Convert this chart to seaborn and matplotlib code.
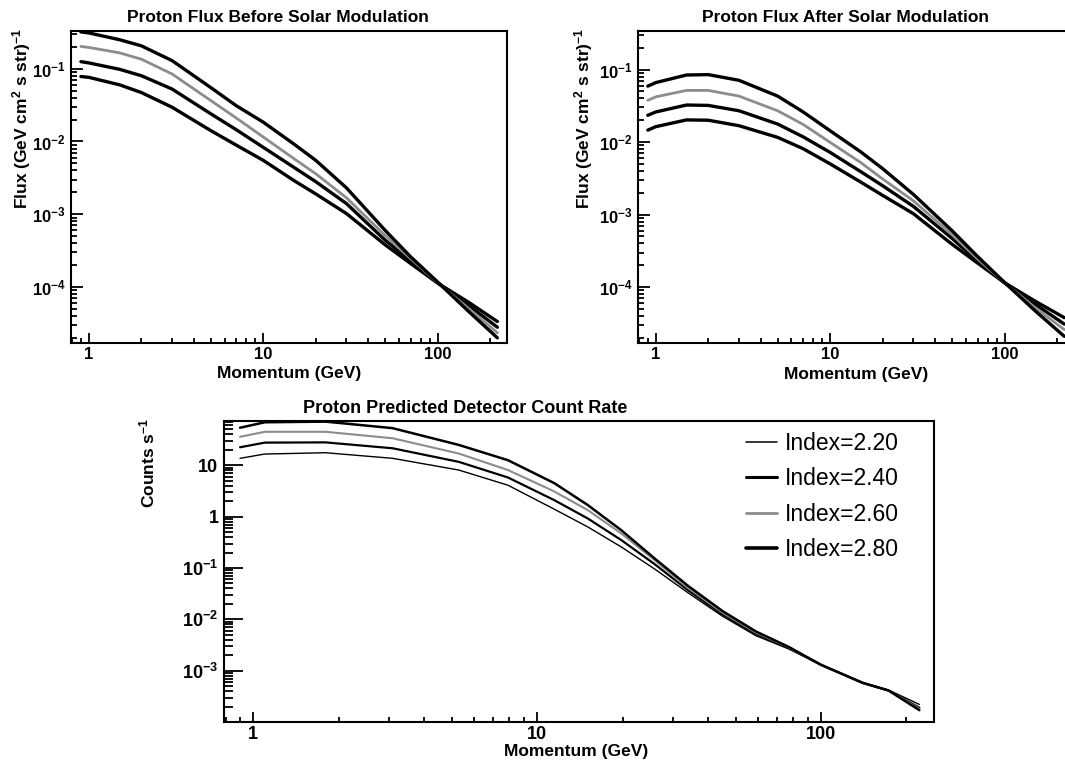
# Proton flux / count-rate panels (three log-log plots)
import matplotlib
matplotlib.use('Agg')
import matplotlib.pyplot as plt
from matplotlib.ticker import NullFormatter
import seaborn as sns

# Momentum grid for the two flux panels (GeV)
momentum = [0.9, 1.0, 1.5, 2, 3, 5, 7, 10, 15, 20, 30, 50, 70, 100, 150, 220]

# Flux before solar modulation, (GeV cm^2 s str)^-1
before_220 = [0.078, 0.076, 0.06, 0.047, 0.0295, 0.0141, 0.0089, 0.0055, 0.0029, 0.0019, 0.00102, 3.8e-4, 2.1e-4, 1.13e-4, 6.2e-5, 3.35e-5]
before_240 = [0.125, 0.12, 0.098, 0.080, 0.0525, 0.024, 0.0145, 0.0083, 0.0044, 0.0028, 0.0014, 4.4e-4, 2.3e-4, 1.14e-4, 5.6e-5, 2.8e-5]
before_260 = [0.202, 0.196, 0.165, 0.135, 0.0845, 0.0365, 0.021, 0.0115, 0.0058, 0.0036, 0.00168, 5.1e-4, 2.45e-4, 1.15e-4, 5.1e-5, 2.35e-5]
before_280 = [0.32, 0.31, 0.25, 0.206, 0.129, 0.055, 0.031, 0.0184, 0.0092, 0.0055, 0.0023, 6.0e-4, 2.6e-4, 1.17e-4, 4.65e-5, 2.0e-5]

# Flux after solar modulation
after_220 = [0.0146, 0.0163, 0.0202, 0.020, 0.0168, 0.0116, 0.0081, 0.005, 0.0028, 0.00184, 0.00103, 3.9e-4, 2.15e-4, 1.15e-4, 6.4e-5, 3.8e-5]
after_240 = [0.0234, 0.026, 0.0324, 0.032, 0.027, 0.0177, 0.0118, 0.0072, 0.0039, 0.0025, 0.0013, 4.7e-4, 2.3e-4, 1.15e-4, 5.8e-5, 3.1e-5]
after_260 = [0.0376, 0.042, 0.0515, 0.0515, 0.043, 0.027, 0.0175, 0.0099, 0.0052, 0.0031, 0.00155, 5.3e-4, 2.45e-4, 1.15e-4, 5.2e-5, 2.6e-5]
after_280 = [0.059, 0.066, 0.084, 0.085, 0.071, 0.043, 0.026, 0.0143, 0.0073, 0.0043, 0.0019, 6.0e-4, 2.65e-4, 1.16e-4, 4.7e-5, 2.1e-5]

# Predicted detector count rate (counts/s)
momentum_rate = [0.9, 1.1, 1.8, 3.1, 5.3, 7.9, 11.5, 15.1, 19.8, 26, 34, 45, 59, 77, 100, 140, 173, 222]
rate_220 = [13.7, 16.6, 17.6, 13.7, 8.1, 4.1, 1.4, 0.63, 0.257, 0.095, 0.033, 0.0115, 4.8e-3, 2.65e-3, 1.3e-3, 5.9e-4, 4.2e-4, 2.2e-4]
rate_240 = [22.5, 27.7, 28, 21.5, 11.7, 5.8, 2.1, 0.92, 0.35, 0.118, 0.037, 0.0125, 5.2e-3, 2.75e-3, 1.3e-3, 5.8e-4, 4.1e-4, 1.9e-4]
rate_260 = [36, 45, 45, 33.7, 17, 8.1, 3.1, 1.34, 0.47, 0.141, 0.041, 0.0135, 5.5e-3, 2.85e-3, 1.3e-3, 5.8e-4, 4.1e-4, 1.8e-4]
rate_280 = [54, 69, 71, 53, 25, 12.6, 4.5, 1.68, 0.545, 0.152, 0.045, 0.0145, 5.8e-3, 2.9e-3, 1.3e-3, 5.8e-4, 4.1e-4, 1.7e-4]

labels = ['Index=2.20', 'Index=2.40', 'Index=2.60', 'Index=2.80']
line_colors = ['black', 'black', '0.55', 'black']
top_widths = [2.4, 2.4, 2.0, 2.4]
bottom_widths = [1.0, 1.6, 1.5, 1.8]
legend_widths = [1.1, 2.2, 2.0, 2.6]

sns.set_theme(style='ticks')
plt.rcParams['font.family'] = ['Liberation Sans', 'DejaVu Sans']
plt.rcParams['font.weight'] = 'bold'
plt.rcParams['text.color'] = 'black'
plt.rcParams['axes.labelcolor'] = 'black'
plt.rcParams['xtick.color'] = 'black'
plt.rcParams['ytick.color'] = 'black'
plt.rcParams['mathtext.fontset'] = 'custom'
plt.rcParams['mathtext.rm'] = 'Liberation Sans'
plt.rcParams['mathtext.bf'] = 'Liberation Sans:bold'
plt.rcParams['mathtext.it'] = 'Liberation Sans:italic'
plt.rcParams['mathtext.default'] = 'bf'

fig = plt.figure(figsize=(10.65, 7.68), dpi=100)
ax1 = fig.add_axes([0.0667, 0.5534, 0.4094, 0.4063])
ax2 = fig.add_axes([0.599, 0.5534, 0.4094, 0.4063])
ax3 = fig.add_axes([0.2103, 0.0599, 0.6667, 0.3919])


def setup_axis(ax, ylim, yticks, ylabels, ymajor, yminor, tsize):
    ax.set_xscale('log')
    ax.set_yscale('log')
    ax.set_xticks([1, 10, 100], labels=['1', '10', '100'])
    ax.set_yticks(yticks, labels=ylabels)
    ax.xaxis.set_minor_formatter(NullFormatter())
    ax.yaxis.set_minor_formatter(NullFormatter())
    ax.set_xlim(0.79, 250)
    ax.set_ylim(*ylim)
    ax.tick_params(which='both', direction='in', top=False, right=False,
                   width=1.3, colors='black', labelsize=tsize)
    ax.tick_params(axis='x', which='major', length=7.5, pad=3)
    ax.tick_params(axis='x', which='minor', length=3.5)
    ax.tick_params(axis='y', which='major', length=ymajor, pad=4)
    ax.tick_params(axis='y', which='minor', length=yminor)
    for s in ax.spines.values():
        s.set_linewidth(1.5)
        s.set_color('black')


flux_ticks = [1e-4, 1e-3, 1e-2, 1e-1]
flux_labels = [r'$10^{-4}$', r'$10^{-3}$', r'$10^{-2}$', r'$10^{-1}$']
flux_ylabel = r'Flux (GeV cm$^2$ s str)$^{-1}$'

# Top left - before modulation
for vals, c, w in zip([before_220, before_240, before_260, before_280], line_colors, top_widths):
    sns.lineplot(x=momentum, y=vals, ax=ax1, color=c, lw=w, legend=False)
setup_axis(ax1, (1.7e-5, 0.33), flux_ticks, flux_labels, 8.5, 4.5, 12)
ax1.set_title('Proton Flux Before Solar Modulation', fontsize=12.5, fontweight='bold', x=0.475, pad=6.5)
ax1.set_xlabel('Momentum (GeV)', fontsize=12.5, fontweight='bold')
ax1.xaxis.set_label_coords(0.5, -0.074)
ax1.set_ylabel(flux_ylabel, fontsize=12.5, fontweight='bold', loc='top')
ax1.yaxis.set_label_coords(-0.087, 1.01)

# Top right - after modulation
for vals, c, w in zip([after_220, after_240, after_260, after_280], line_colors, top_widths):
    sns.lineplot(x=momentum, y=vals, ax=ax2, color=c, lw=w, legend=False)
setup_axis(ax2, (1.7e-5, 0.34), flux_ticks, flux_labels, 8.5, 4.5, 12)
ax2.set_title('Proton Flux After Solar Modulation', fontsize=12.5, fontweight='bold', x=0.477, pad=6.5)
ax2.set_xlabel('Momentum (GeV)', fontsize=12.5, fontweight='bold')
ax2.xaxis.set_label_coords(0.5, -0.078)
ax2.set_ylabel(flux_ylabel, fontsize=12.5, fontweight='bold', loc='top')
ax2.yaxis.set_label_coords(-0.099, 1.01)

# Bottom - predicted detector count rate
for vals, c, w, lab in zip([rate_220, rate_240, rate_260, rate_280], line_colors, bottom_widths, labels):
    sns.lineplot(x=momentum_rate, y=vals, ax=ax3, color=c, lw=w, label=lab)
setup_axis(ax3, (1e-4, 73), [1e-3, 1e-2, 1e-1, 1, 10],
           [r'$10^{-3}$', r'$10^{-2}$', r'$10^{-1}$', '1', '10'], 14, 6.5, 13)
ax3.set_title('Proton Predicted Detector Count Rate', fontsize=13, fontweight='bold', x=0.34, pad=5.5)
ax3.set_xlabel('Momentum (GeV)', fontsize=12.5, fontweight='bold')
ax3.xaxis.set_label_coords(0.496, -0.074)
ax3.set_ylabel(r'Counts s$^{-1}$', fontsize=12.5, fontweight='bold', loc='top')
ax3.yaxis.set_label_coords(-0.094, 1.01)
leg = ax3.legend(loc='upper left', bbox_to_anchor=(0.735, 0.965), frameon=False,
                 prop={'weight': 'normal', 'size': 16.5}, handlelength=1.35,
                 handletextpad=0.35, labelspacing=0.55, borderpad=0, borderaxespad=0)
for h, w in zip(leg.legend_handles, legend_widths):
    h.set_linewidth(w)

plt.savefig('out.png', dpi=100)
